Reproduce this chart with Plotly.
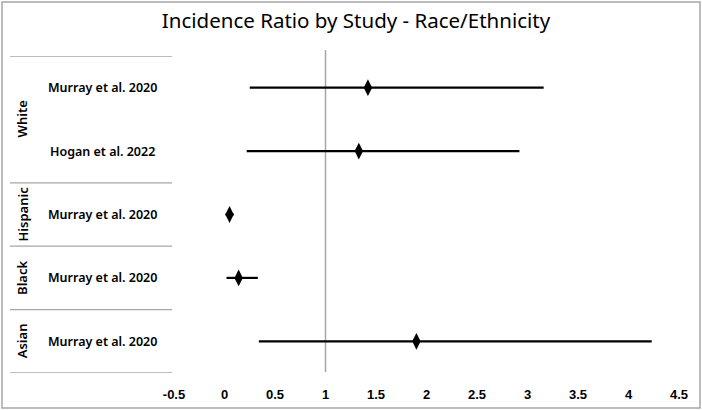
import plotly.graph_objects as go

# Data
groups = ["White", "White", "Hispanic", "Black", "Asian"]
studies = ["Murray et al. 2020", "Hogan et al. 2022", "Murray et al. 2020",
           "Murray et al. 2020", "Murray et al. 2020"]
estimate = [1.42, 1.33, 0.05, 0.14, 1.90]
lower = [0.25, 0.22, 0.01, 0.02, 0.34]
upper = [3.16, 2.92, 0.09, 0.33, 4.23]
group_names = ["White", "Hispanic", "Black", "Asian"]
group_spans = [(0, 1), (2, 2), (3, 3), (4, 4)]
x_ticks = [-0.5, 0, 0.5, 1, 1.5, 2, 2.5, 3, 3.5, 4, 4.5]
x_tick_text = ["-0.5", "0", "0.5", "1", "1.5", "2", "2.5", "3", "3.5", "4", "4.5"]

W, H = 702, 410
L, R, T, B = 174, 23, 56, 37
pw = W - L - R
ph = H - T - B

def px_to_paper_x(px):
    return (px - L) / pw

def py_to_paper_y(py):
    return 1 - (py - T) / ph

pos = list(range(len(studies)))

fig = go.Figure()
fig.add_trace(go.Scatter(
    x=estimate, y=pos, mode="markers",
    marker=dict(symbol="diamond-tall", size=12, color="black"),
    error_x=dict(type="data", symmetric=False,
                 array=[u - e for u, e in zip(upper, estimate)],
                 arrayminus=[e - l for e, l in zip(estimate, lower)],
                 color="black", thickness=2.2, width=0),
    showlegend=False, hoverinfo="skip", cliponaxis=False,
))

shapes = []
# vertical reference line at 1
shapes.append(dict(type="line", xref="x", yref="paper", x0=1, x1=1,
                   y0=py_to_paper_y(372), y1=py_to_paper_y(50),
                   line=dict(color="#a6a6a6", width=1.5), layer="below"))
# group separators
for b in [-0.5, 1.5, 2.5, 3.5, 4.5]:
    shapes.append(dict(type="line", xref="paper", yref="y",
                       x0=px_to_paper_x(10), x1=px_to_paper_x(172), y0=b, y1=b,
                       line=dict(color="#a6a6a6", width=1.3)))
# chart border
shapes.append(dict(type="rect", xref="paper", yref="paper",
                   x0=px_to_paper_x(2), x1=px_to_paper_x(700),
                   y0=py_to_paper_y(408), y1=py_to_paper_y(2),
                   line=dict(color="#a6a6a6", width=1.5)))

annotations = []
for i, s in enumerate(studies):
    annotations.append(dict(x=px_to_paper_x(102), y=i, xref="paper", yref="y",
                            text=s, showarrow=False, xanchor="center", yanchor="middle",
                            font=dict(family="Noto Sans", size=12.5, color="black", weight=600)))
for name, (a, b) in zip(group_names, group_spans):
    annotations.append(dict(x=px_to_paper_x(22), y=(a + b) / 2, xref="paper", yref="y",
                            text=name, showarrow=False, textangle=-90,
                            xanchor="center", yanchor="middle",
                            font=dict(family="Noto Sans", size=13, color="black", weight=600)))

fig.update_layout(
    width=W, height=H,
    margin=dict(l=L, r=R, t=T, b=B, autoexpand=False),
    paper_bgcolor="white", plot_bgcolor="white",
    title=dict(text="Incidence Ratio by Study - Race/Ethnicity", x=356 / W, xref="container",
               y=1 - 21 / H, yref="container", yanchor="middle", xanchor="center",
               font=dict(family="Noto Sans", size=20.5, color="black")),
    xaxis=dict(range=[-0.5, 4.5], tickvals=x_ticks, ticktext=x_tick_text,
               showgrid=False, zeroline=False, showline=False, automargin=False,
               ticks="outside", ticklen=9, tickcolor="rgba(0,0,0,0)",
               tickfont=dict(family="Liberation Sans", size=13, color="black", weight="bold"),
               fixedrange=True),
    yaxis=dict(range=[4.5, -0.5], showticklabels=False, showgrid=False, automargin=False,
               zeroline=False, showline=False, fixedrange=True),
    shapes=shapes, annotations=annotations,
)

fig.write_html("out.html")
